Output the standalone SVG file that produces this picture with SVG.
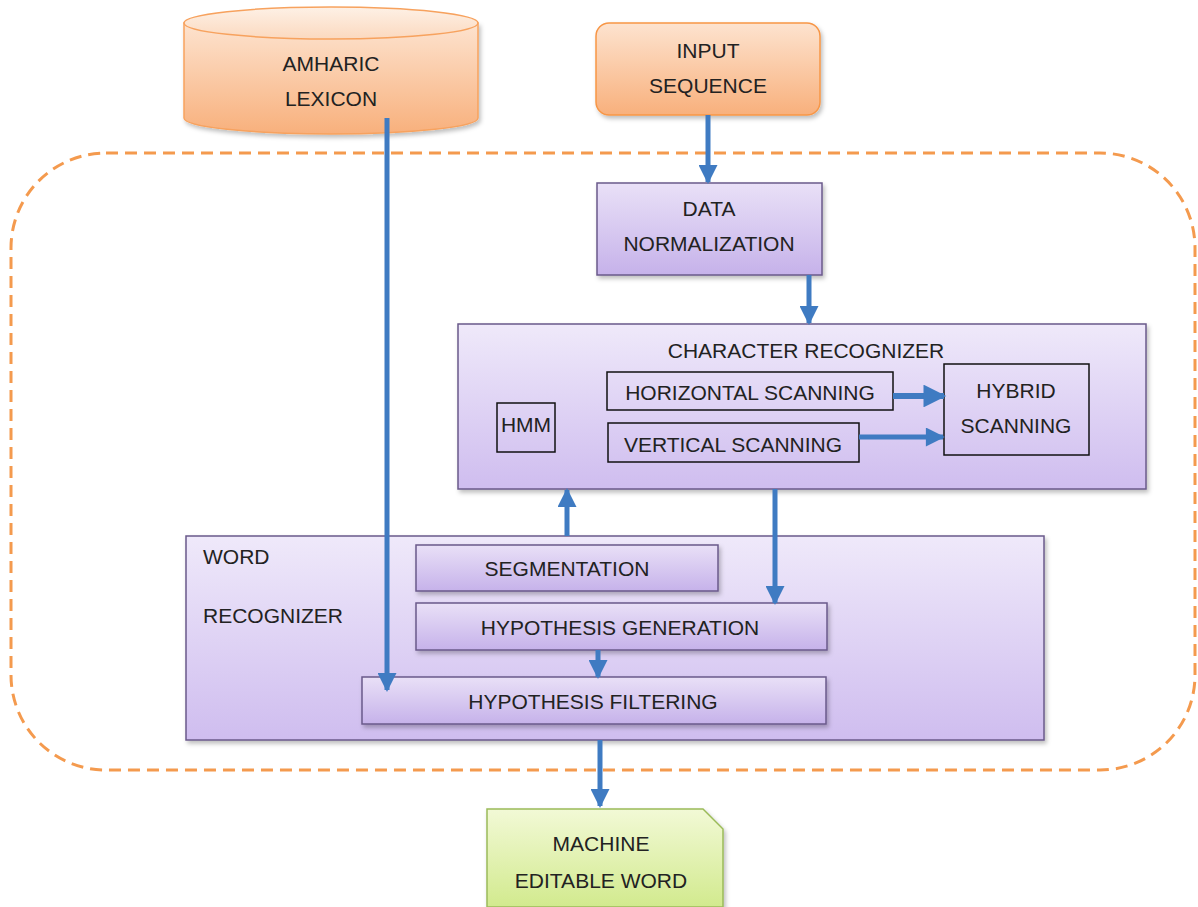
<svg xmlns="http://www.w3.org/2000/svg" width="1198" height="907" viewBox="0 0 1198 907">
<defs>
<linearGradient id="gOrange" x1="0" y1="0" x2="0" y2="1"><stop offset="0" stop-color="#fde3cf"/><stop offset="1" stop-color="#f8b07c"/></linearGradient>
<linearGradient id="gOrangeTop" x1="0" y1="0" x2="0" y2="1"><stop offset="0" stop-color="#fef1e6"/><stop offset="1" stop-color="#fbd9bf"/></linearGradient>
<linearGradient id="gPurple" x1="0" y1="0" x2="0" y2="1"><stop offset="0" stop-color="#e9e0f7"/><stop offset="1" stop-color="#c6b2ea"/></linearGradient>
<linearGradient id="gPurpleBig" x1="0" y1="0" x2="0" y2="1"><stop offset="0" stop-color="#efe9fa"/><stop offset="1" stop-color="#cfbdef"/></linearGradient>
<linearGradient id="gGreen" x1="0" y1="0" x2="0" y2="1"><stop offset="0" stop-color="#f2f9d6"/><stop offset="1" stop-color="#d2ea8e"/></linearGradient>
<filter id="sh" x="-10%" y="-10%" width="130%" height="140%"><feDropShadow dx="2" dy="3" stdDeviation="2" flood-color="#000" flood-opacity="0.25"/></filter>
<marker id="ah" viewBox="0 0 10 10" refX="9" refY="5" markerWidth="4" markerHeight="3.8" orient="auto" markerUnits="strokeWidth"><path d="M0,0 L10,5 L0,10 z" fill="#3f7bc2"/></marker>
</defs>
<style>
.t{font-family:"Liberation Sans",Arial,sans-serif;font-size:21px;fill:#222;text-anchor:middle}
.tl{font-family:"Liberation Sans",Arial,sans-serif;font-size:21px;fill:#222}
.pbox{fill:url(#gPurple);stroke:#6a5a8a;stroke-width:1.5;filter:url(#sh)}
.ibox{fill:none;stroke:#111;stroke-width:1.5}
.c{stroke:#3f7bc2;stroke-width:5;fill:none;marker-end:url(#ah)}
</style>
<rect width="1198" height="907" fill="#fff"/>
<rect x="11" y="153" width="1184" height="617" rx="95" ry="95" fill="none" stroke="#f49a4e" stroke-width="3" stroke-dasharray="12 7"/>

<g id="lexicon">
<path d="M184,23 L184,118 A147,16 0 0 0 478,118 L478,23 Z" fill="url(#gOrange)" stroke="#f7a25e" stroke-width="1.5" filter="url(#sh)"/>
<ellipse cx="331" cy="23" rx="147" ry="16" fill="url(#gOrangeTop)" stroke="#f7a25e" stroke-width="1.5"/>
<text class="t" x="331" y="71">AMHARIC</text>
<text class="t" x="331" y="106">LEXICON</text>
</g>

<g id="input">
<rect x="596" y="23" width="224" height="92" rx="13" fill="url(#gOrange)" stroke="#f79646" stroke-width="1.5" filter="url(#sh)"/>
<text class="t" x="708" y="58">INPUT</text>
<text class="t" x="708" y="93">SEQUENCE</text>
</g>

<g id="normalization">
<rect x="597" y="183" width="225" height="92" class="pbox"/>
<text class="t" x="709" y="216">DATA</text>
<text class="t" x="709" y="251">NORMALIZATION</text>
</g>

<g id="char-recognizer">
<rect x="458" y="324" width="688" height="165" class="pbox" style="fill:url(#gPurpleBig)"/>
<text class="t" x="806" y="358">CHARACTER RECOGNIZER</text>
</g>
<g id="hmm">
<rect x="497" y="403" width="58" height="49" class="ibox"/>
<text class="t" x="526" y="432">HMM</text>
</g>
<g id="horizontal">
<rect x="607" y="372" width="286" height="38" class="ibox"/>
<text class="t" x="750" y="400">HORIZONTAL SCANNING</text>
</g>
<g id="vertical">
<rect x="608" y="423" width="251" height="39" class="ibox"/>
<text class="t" x="733" y="452">VERTICAL SCANNING</text>
</g>
<g id="hybrid">
<rect x="944" y="364" width="145" height="91" class="ibox"/>
<text class="t" x="1016" y="398">HYBRID</text>
<text class="t" x="1016" y="433">SCANNING</text>
</g>

<g id="word-recognizer">
<rect x="186" y="536" width="858" height="204" class="pbox" style="fill:url(#gPurpleBig)"/>
<text class="tl" x="203" y="564">WORD</text>
<text class="tl" x="203" y="623">RECOGNIZER</text>
</g>
<g id="segmentation">
<rect x="416" y="545" width="302" height="46" class="pbox"/>
<text class="t" x="567" y="576">SEGMENTATION</text>
</g>
<g id="generation">
<rect x="416" y="603" width="411" height="47" class="pbox"/>
<text class="t" x="620" y="635">HYPOTHESIS GENERATION</text>
</g>
<g id="filtering">
<rect x="362" y="677" width="464" height="47" class="pbox"/>
<text class="t" x="593" y="709">HYPOTHESIS FILTERING</text>
</g>

<g id="output">
<path d="M487,809 L703,809 L723,829 L723,907 L487,907 Z" fill="url(#gGreen)" stroke="#9bbb59" stroke-width="1.5" filter="url(#sh)"/>
<text class="t" x="601" y="851">MACHINE</text>
<text class="t" x="601" y="888">EDITABLE WORD</text>
</g>

<g id="connectors">
<line class="c" x1="708" y1="115" x2="708" y2="182"/>
<line class="c" x1="809" y1="275" x2="809" y2="323"/>
<line class="c" x1="893" y1="396" x2="944" y2="396" style="stroke-width:6"/>
<line class="c" x1="859" y1="437" x2="943" y2="437"/>
<line class="c" x1="567" y1="536" x2="567" y2="490"/>
<line class="c" x1="775" y1="489" x2="775" y2="603"/>
<line class="c" x1="387" y1="118" x2="387" y2="690"/>
<line class="c" x1="598" y1="650" x2="598" y2="677"/>
<line class="c" x1="600" y1="740" x2="600" y2="806"/>
</g>
</svg>
